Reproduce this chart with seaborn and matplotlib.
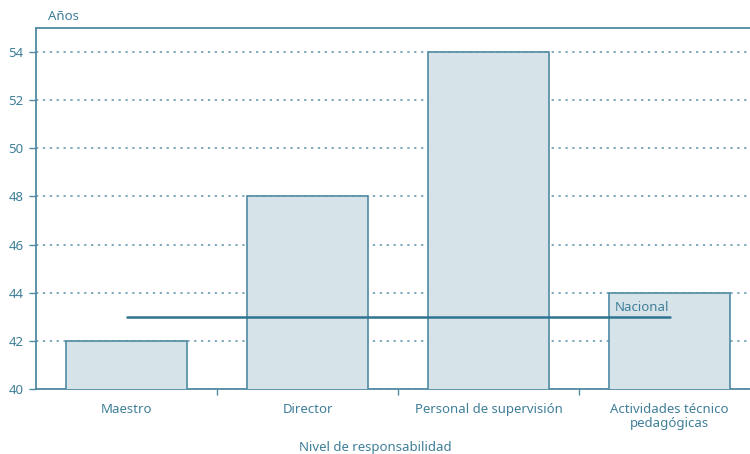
import matplotlib
matplotlib.use("Agg")
import matplotlib.pyplot as plt
import seaborn as sns
import pandas as pd
from matplotlib.ticker import FixedLocator

categories = ["Maestro", "Director", "Personal de supervisión", "Actividades técnico\npedagógicas"]
values = [42, 48, 54, 44]
nacional = 43
yticks = [40, 42, 44, 46, 48, 50, 52, 54]

sns.set_theme(style="white")
plt.rcParams['font.family'] = ['Noto Sans', 'DejaVu Sans']

TXT = "#3f7f99"
EDGE = "#4f8aa3"
FILL = "#d6e4ea"
LINE = "#2f7491"
FS = 9.5

df = pd.DataFrame({"cat": categories, "val": values})

fig = plt.figure(figsize=(7.5, 4.54), dpi=100)
ax = fig.add_axes([36/750, 65/454, 724/750, 361/454])

sns.barplot(data=df, x="cat", y="val", ax=ax, color=FILL, width=0.667,
            edgecolor=EDGE, linewidth=1.2, saturation=1, zorder=3)

ax.set_ylim(40, 55)
ax.set_xlim(-0.5, 3.5)
ax.set_yticks(yticks)
ax.set_yticklabels([str(v) for v in yticks], color=TXT, fontsize=FS)
ax.tick_params(axis='y', which='major', length=5, width=1, color=EDGE, direction='out', left=True, pad=4)
ax.tick_params(axis='x', which='major', length=0, pad=10, labelsize=FS, labelcolor=TXT)
ax.xaxis.set_minor_locator(FixedLocator([0.5, 1.5, 2.5]))
ax.tick_params(axis='x', which='minor', length=4, width=1, color=EDGE, direction='out', bottom=True)
for lbl in ax.get_xticklabels():
    lbl.set_linespacing(1.1)

ax.yaxis.grid(True, linestyle=(0, (1.5, 3)), color="#5e95ab", linewidth=1.1, zorder=0)
ax.set_axisbelow(True)

for s in ["left", "bottom", "top", "right"]:
    ax.spines[s].set_color(EDGE)
    ax.spines[s].set_linewidth(1.3)

# National reference line from first to last category centre
sns.lineplot(x=[0, 3], y=[nacional, nacional], ax=ax, color=LINE, linewidth=1.8, zorder=4)
ax.text(3, nacional + 0.12, "Nacional", ha="right", va="bottom", color=TXT, fontsize=FS, zorder=5)

ax.set_xlabel("")
ax.set_ylabel("")
fig.text(375/750, 1 - 447/454, "Nivel de responsabilidad", color=TXT, fontsize=FS, ha="center", va="center")
fig.text(48/750, 1 - 17/454, "Años", color=TXT, fontsize=FS, ha="left", va="center")

fig.savefig("out.png", dpi=100)
